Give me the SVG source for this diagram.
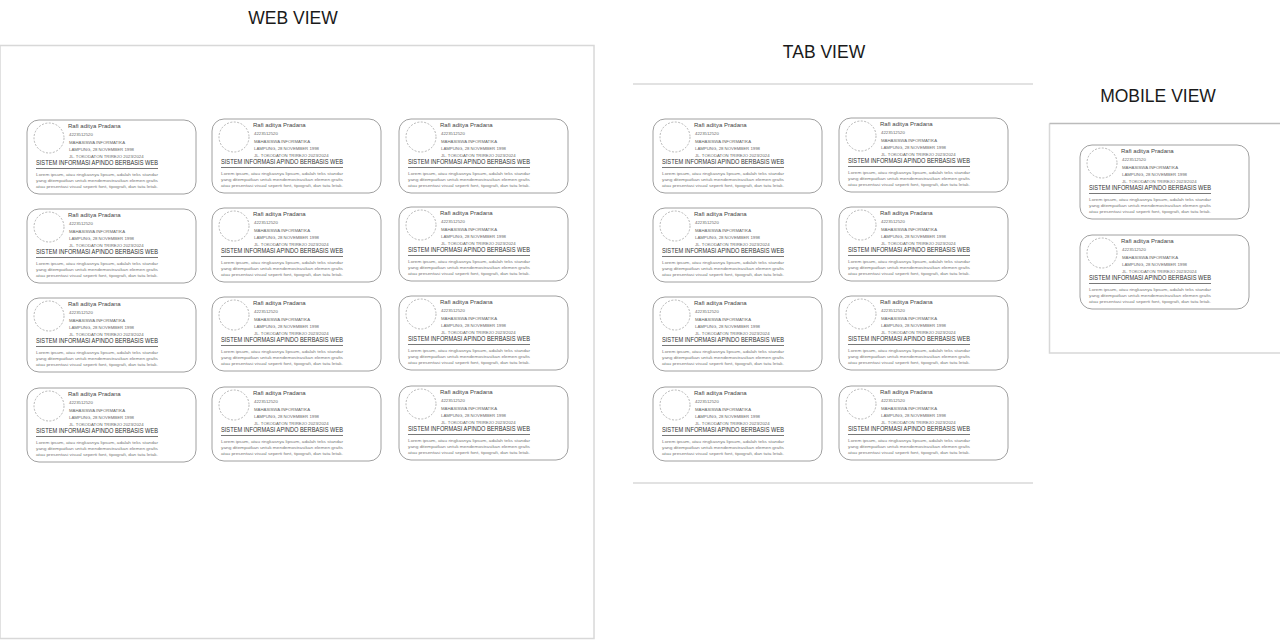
<svg xmlns="http://www.w3.org/2000/svg" xmlns:xlink="http://www.w3.org/1999/xlink" width="1280" height="640" viewBox="0 0 1280 640">
<style>
.bg{fill:#ffffff}
.frame{fill:none;stroke:#d8d8d8;stroke-width:1.5}
.frame2{fill:none;stroke:#bbbbbb;stroke-width:1.5}
.title{font-family:"Liberation Sans",Arial,sans-serif;font-size:17.5px;fill:#1a1a1a;text-anchor:middle}
.card{fill:#ffffff;stroke:#888;stroke-width:0.8}
.avatar{fill:none;stroke:#999;stroke-width:0.7;stroke-dasharray:2 1.5}
.name{font-family:"Liberation Sans",Arial,sans-serif;font-size:6px;fill:#444}
.info{font-family:"Liberation Sans",Arial,sans-serif;font-size:4.3px;fill:#666}
.head{font-family:"Liberation Sans",Arial,sans-serif;font-size:6.3px;fill:#333}
.rule{stroke:#555;stroke-width:0.8}
.lorem{font-family:"Liberation Sans",Arial,sans-serif;font-size:4.3px;fill:#777}
</style>
<defs>
<g id="card">
<rect class="card" x="0" y="0" width="169" height="74" rx="12"/>
<circle class="avatar" cx="22" cy="18" r="15"/>
<text class="name" x="41" y="8">Rafi aditya Pradana</text>
<text class="info" x="42" y="16">4223512520</text>
<text class="info" x="42" y="24">MAHASISWA INFORMATIKA</text>
<text class="info" x="42" y="31">LAMPUNG, 28 NOVEMBER 1998</text>
<text class="info" x="42" y="38">JL. TOKODATON TRIREJO 2023/2024</text>
<text class="head" x="9" y="45" textLength="122" lengthAdjust="spacingAndGlyphs">SISTEM INFORMASI APINDO BERBASIS WEB</text>
<line class="rule" x1="9" y1="48.5" x2="131" y2="48.5"/>
<text class="lorem" x="9" y="56" textLength="122" lengthAdjust="spacingAndGlyphs">Lorem ipsum, atau ringkasnya lipsum, adalah teks standar</text>
<text class="lorem" x="9" y="62" textLength="122" lengthAdjust="spacingAndGlyphs">yang ditempatkan untuk mendemostrasikan elemen grafis</text>
<text class="lorem" x="9" y="68" textLength="122" lengthAdjust="spacingAndGlyphs">atau presentasi visual seperti font, tipografi, dan tata letak.</text>
</g>
</defs>
<rect class="bg" x="0" y="0" width="1280" height="640"/>
<g id="web-view">
<text class="title" x="293" y="24">WEB VIEW</text>
<rect class="frame" x="0" y="45.5" width="594" height="593"/>
</g>
<g id="tab-view">
<text class="title" x="824" y="58">TAB VIEW</text>
<line class="frame" x1="633" y1="84" x2="1033" y2="84"/>
<line class="frame" x1="633" y1="483" x2="1033" y2="483"/>
</g>
<g id="mobile-view">
<text class="title" x="1158" y="102">MOBILE VIEW</text>
<path class="frame" d="M1049.5 123.5 V353 H1280"/>
<line class="frame2" x1="1049.5" y1="123.5" x2="1280" y2="123.5"/>
</g>
<g id="web-r1c1" transform="translate(27,120)"><use xlink:href="#card"/></g>
<g id="web-r1c2" transform="translate(212,119)"><use xlink:href="#card"/></g>
<g id="web-r1c3" transform="translate(399,119)"><use xlink:href="#card"/></g>
<g id="web-r2c1" transform="translate(27,209)"><use xlink:href="#card"/></g>
<g id="web-r2c2" transform="translate(212,208)"><use xlink:href="#card"/></g>
<g id="web-r2c3" transform="translate(399,207)"><use xlink:href="#card"/></g>
<g id="web-r3c1" transform="translate(27,298)"><use xlink:href="#card"/></g>
<g id="web-r3c2" transform="translate(212,297)"><use xlink:href="#card"/></g>
<g id="web-r3c3" transform="translate(399,296)"><use xlink:href="#card"/></g>
<g id="web-r4c1" transform="translate(27,388)"><use xlink:href="#card"/></g>
<g id="web-r4c2" transform="translate(212,387)"><use xlink:href="#card"/></g>
<g id="web-r4c3" transform="translate(399,386)"><use xlink:href="#card"/></g>
<g id="tab-r1c1" transform="translate(653,119)"><use xlink:href="#card"/></g>
<g id="tab-r1c2" transform="translate(839,118)"><use xlink:href="#card"/></g>
<g id="tab-r2c1" transform="translate(653,208)"><use xlink:href="#card"/></g>
<g id="tab-r2c2" transform="translate(839,207)"><use xlink:href="#card"/></g>
<g id="tab-r3c1" transform="translate(653,297)"><use xlink:href="#card"/></g>
<g id="tab-r3c2" transform="translate(839,296)"><use xlink:href="#card"/></g>
<g id="tab-r4c1" transform="translate(653,387)"><use xlink:href="#card"/></g>
<g id="tab-r4c2" transform="translate(839,386)"><use xlink:href="#card"/></g>
<g id="mob-r1" transform="translate(1080,145)"><use xlink:href="#card"/></g>
<g id="mob-r2" transform="translate(1080,235)"><use xlink:href="#card"/></g>
<g id="connectors"></g>
</svg>
